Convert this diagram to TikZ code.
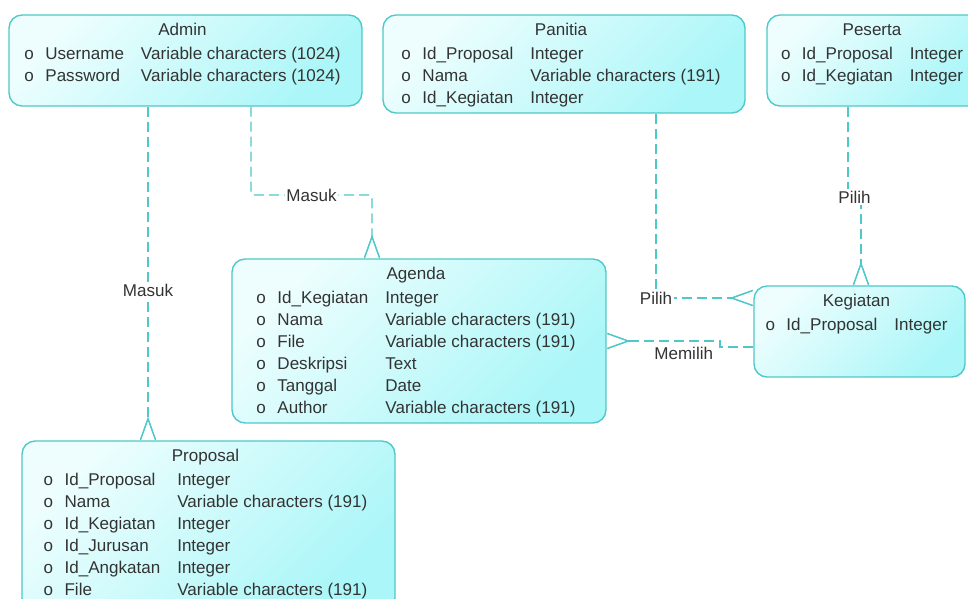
\documentclass[tikz,border=0pt]{standalone}
\usepackage{fontspec}
\setmainfont{Liberation Sans}
\usepackage{xcolor}
\usepackage{tikz}
\usetikzlibrary{arrows.meta,decorations.markings}

\definecolor{erline}{RGB}{78,200,200}
\definecolor{erlight}{RGB}{238,254,254}
\definecolor{erdark}{RGB}{170,246,248}
\definecolor{ertext}{RGB}{51,51,51}

\tikzset{
  entity/.style={draw=erline, line width=0.8pt, rounded corners=0.26cm,
    top color=erlight, bottom color=erdark, shading angle=45, inner sep=0pt},
  fields/.style={anchor=north, xshift=-0.06cm, yshift=-0.11cm, inner sep=0pt, text=ertext,
    font=\fontsize{9.7}{12.5}\selectfont},
  rel/.style={draw=erline, line width=0.7pt, dash pattern=on 0.2cm off 0.1cm},
  crow/.style={-{Straight Barb[reversed, length=0.42cm, width=0.3cm]},
    postaction={decorate, decoration={markings, mark=at position 1 with
      {\draw[erline, line width=0.7pt, solid] (-0.42cm,0) -- (0,0);}}}},
  lbl/.style={fill=white, inner sep=1pt, text=ertext,
    font=\fontsize{9.7}{12}\selectfont},
}

\begin{document}
\begin{tikzpicture}[x=0.02cm, y=-0.02cm]
    \useasboundingbox (0,0) rectangle (968,599);
    \clip (0,0) rectangle (968,599);

    % Entities
    \node[entity, minimum width=7.06cm, minimum height=1.82cm] (admin) at (185.5,60.5) {};
    \node[fields] (admin-f) at (admin.north) {\begin{tabular}{@{}l@{\hspace{0.23cm}}l@{\hspace{0.34cm}}l@{}}
        \multicolumn{3}{c}{Admin}\\[1pt]
        o & Username & Variable characters (1024)\\
        o & Password & Variable characters (1024)
    \end{tabular}};

    \node[entity, minimum width=7.24cm, minimum height=1.96cm] (panitia) at (564,64) {};
    \node[fields] (panitia-f) at (panitia.north) {\begin{tabular}{@{}l@{\hspace{0.23cm}}l@{\hspace{0.34cm}}l@{}}
        \multicolumn{3}{c}{Panitia}\\[1pt]
        o & Id\_Proposal & Integer\\
        o & Nama & Variable characters (191)\\
        o & Id\_Kegiatan & Integer
    \end{tabular}};

    \node[entity, minimum width=4.32cm, minimum height=1.82cm] (peserta) at (875,60.5) {};
    \node[fields] (peserta-f) at (peserta.north) {\begin{tabular}{@{}l@{\hspace{0.23cm}}l@{\hspace{0.34cm}}l@{}}
        \multicolumn{3}{c}{Peserta}\\[1pt]
        o & Id\_Proposal & Integer\\
        o & Id\_Kegiatan & Integer
    \end{tabular}};

    \node[entity, minimum width=7.48cm, minimum height=3.28cm] (agenda) at (419,341) {};
    \node[fields] (agenda-f) at (agenda.north) {\begin{tabular}{@{}l@{\hspace{0.23cm}}l@{\hspace{0.34cm}}l@{}}
        \multicolumn{3}{c}{Agenda}\\[1pt]
        o & Id\_Kegiatan & Integer\\
        o & Nama & Variable characters (191)\\
        o & File & Variable characters (191)\\
        o & Deskripsi & Text\\
        o & Tanggal & Date\\
        o & Author & Variable characters (191)
    \end{tabular}};

    \node[entity, minimum width=4.22cm, minimum height=1.82cm] (kegiatan) at (859.5,331.5) {};
    \node[fields] (kegiatan-f) at (kegiatan.north) {\begin{tabular}{@{}l@{\hspace{0.23cm}}l@{\hspace{0.34cm}}l@{}}
        \multicolumn{3}{c}{Kegiatan}\\[1pt]
        o & Id\_Proposal & Integer
    \end{tabular}};

    \node[entity, minimum width=7.46cm, minimum height=3.4cm] (proposal) at (208.5,526) {};
    \node[fields] (proposal-f) at (proposal.north) {\begin{tabular}{@{}l@{\hspace{0.23cm}}l@{\hspace{0.34cm}}l@{}}
        \multicolumn{3}{c}{Proposal}\\[1pt]
        o & Id\_Proposal & Integer\\
        o & Nama & Variable characters (191)\\
        o & Id\_Kegiatan & Integer\\
        o & Id\_Jurusan & Integer\\
        o & Id\_Angkatan & Integer\\
        o & File & Variable characters (191)
    \end{tabular}};

    % Relations
    \draw[rel, crow] (admin.south -| 148,0) -- node[lbl, pos=0.55] {Masuk} (proposal.north -| 148,0);
    \draw[rel, crow, rounded corners=0.06cm] (admin.south -| 251,0) -- (251,195)
        -- node[lbl] {Masuk} (372,195) -- (agenda.north -| 372,0);
    \draw[rel, crow] (panitia.south -| 656,0) |- node[lbl] {Pilih} (kegiatan.west |- 0,298);
    \draw[rel, crow] (peserta.south -| 848,0) -- (848,197)
        -- node[lbl] {Pilih} (861,197) -- (kegiatan.north -| 861,0);
    \draw[rel, crow] (kegiatan.west |- 0,347) -- (720,347) -- (720,341)
        -- node[lbl, pos=0.32, below=2pt, fill=none] {Memilih} (agenda.east |- 0,341);
\end{tikzpicture}
\end{document}
